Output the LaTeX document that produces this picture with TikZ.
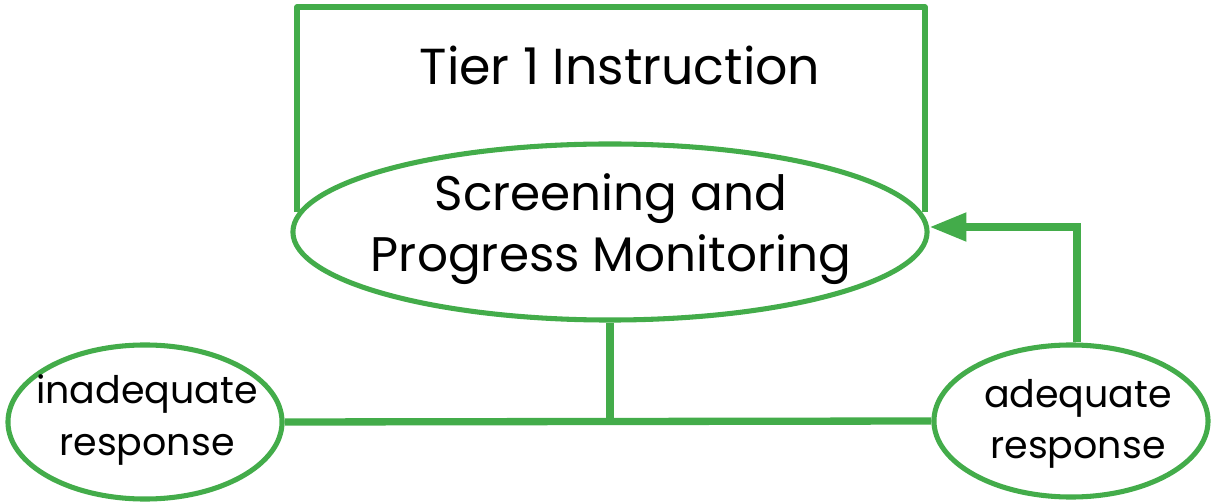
\documentclass[tikz,border=0pt]{standalone}
\usepackage{fontspec}
\setmainfont{Poppins}
\usetikzlibrary{shapes.geometric,arrows.meta}
\definecolor{tgreen}{RGB}{67,172,74}
\begin{document}
\begin{tikzpicture}[x=0.025cm,y=-0.025cm,
  shapeline/.style={draw=tgreen,line width=3.6pt},
  oval/.style={shapeline,ellipse,fill=white,inner sep=0pt},
  conn/.style={draw=tgreen,line width=5.2pt},
  tiertxt/.style={anchor=base,inner sep=0pt,font=\fontsize{36}{42}\selectfont},
  bigtxt/.style={anchor=base,inner sep=0pt,font=\fontsize{34.5}{40}\selectfont},
  smalltxt/.style={anchor=base,inner sep=0pt,font=\fontsize{27}{32}\selectfont}]
\useasboundingbox (0,0) rectangle (1218,504);
% top box (open at the bottom, closed by the ellipse)
\draw[shapeline,line join=round] (297,212) -- (297,7) -- (925,7) -- (925,212);
\node[tiertxt] (tier) at (620,85) {Tier 1 Instruction};
% ellipses
\node[oval,minimum width=15.85cm,minimum height=4.4cm] (mon) at (610,232) {};
\node[oval,minimum width=6.85cm,minimum height=3.85cm] (inad) at (145,422) {};
\node[oval,minimum width=6.85cm,minimum height=3.8cm] (adeq) at (1071,421) {};
\node[bigtxt] (mon1) at (611,211) {Screening and};
\node[bigtxt] (mon2) at (611,272) {Progress Monitoring};
\node[smalltxt] (inad1) at (147,404) {inadequate};
\node[smalltxt] (inad2) at (147,455) {response};
\node[smalltxt] (adeq1) at (1078,407) {adequate};
\node[smalltxt] (adeq2) at (1078,458) {response};
% connectors
\coordinate (junc) at (mon.south |- inad.east);
\draw[conn] (mon.south) -- (junc);
\draw[conn] (inad.east) -- (adeq.west);
\draw[conn,-{Triangle[length=0.92cm,width=0.68cm]}] ([xshift=6*0.025cm]adeq.north) |- ([yshift=5*0.025cm]mon.east);
\end{tikzpicture}
\end{document}
